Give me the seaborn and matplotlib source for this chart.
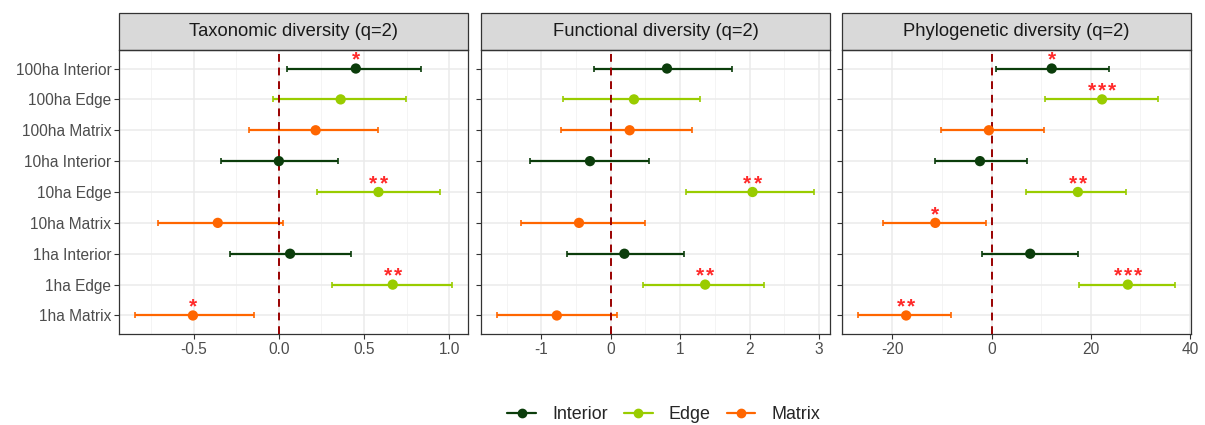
import numpy as np
import pandas as pd
import matplotlib
matplotlib.use("Agg")
import matplotlib.pyplot as plt
from matplotlib.lines import Line2D
from matplotlib.patches import Rectangle
from matplotlib.ticker import MultipleLocator, FormatStrFormatter
import seaborn as sns

# rows, top to bottom
labels = ["100ha Interior", "100ha Edge", "100ha Matrix",
          "10ha Interior", "10ha Edge", "10ha Matrix",
          "1ha Interior", "1ha Edge", "1ha Matrix"]
habitat = ["Interior", "Edge", "Matrix"] * 3

panels = ["Taxonomic diversity (q=2)", "Functional diversity (q=2)", "Phylogenetic diversity (q=2)"]

tax_est = [0.452, 0.363, 0.216, 0.0, 0.585, -0.359, 0.066, 0.669, -0.505]
tax_lo = [0.05, -0.037, -0.177, -0.341, 0.224, -0.71, -0.29, 0.31, -0.846]
tax_hi = [0.838, 0.747, 0.585, 0.347, 0.945, 0.025, 0.425, 1.018, -0.148]
tax_sig = ["*", "", "", "", "**", "", "", "**", "*"]

fun_est = [0.81, 0.334, 0.272, -0.30, 2.043, -0.458, 0.196, 1.36, -0.778]
fun_lo = [-0.243, -0.687, -0.711, -1.165, 1.079, -1.294, -0.63, 0.468, -1.642]
fun_hi = [1.747, 1.289, 1.165, 0.544, 2.931, 0.496, 1.06, 2.205, 0.095]
fun_sig = ["", "", "", "", "**", "", "", "**", ""]

phy_est = [12.13, 22.27, -0.53, -2.33, 17.4, -11.33, 7.8, 27.47, -17.2]
phy_lo = [0.87, 10.87, -10.27, -11.33, 6.87, -21.8, -1.93, 17.67, -26.93]
phy_hi = [23.7, 33.53, 10.6, 7.07, 27.13, -1.13, 17.4, 37.0, -8.2]
phy_sig = ["*", "***", "", "", "**", "*", "", "***", "**"]

colors = {"Interior": "#0B3D0B", "Edge": "#99CC00", "Matrix": "#FF6600"}

rows = []
for p, est, lo, hi, sig in zip(panels,
                               [tax_est, fun_est, phy_est],
                               [tax_lo, fun_lo, phy_lo],
                               [tax_hi, fun_hi, phy_hi],
                               [tax_sig, fun_sig, phy_sig]):
    for i in range(len(labels)):
        rows.append({"panel": p, "label": labels[i], "habitat": habitat[i],
                     "pos": len(labels) - 1 - i, "est": est[i], "lo": lo[i],
                     "hi": hi[i], "sig": sig[i]})
df = pd.DataFrame(rows)

sns.set_theme(style="whitegrid")
plt.rcParams["font.family"] = ["Liberation Sans", "DejaVu Sans"]
plt.rcParams["axes.unicode_minus"] = False

fig = plt.figure(figsize=(12.05, 4.25), dpi=100)
W, H = 1205, 425
lefts = [119, 481, 842]
pw = 349
top, bottom = 50, 334
strip_h = 37
major = [0.5, 1, 20]

for k, p in enumerate(panels):
    ax = fig.add_axes([lefts[k] / W, 1 - bottom / H, pw / W, (bottom - top) / H])
    d = df[df.panel == p]
    ax.set_facecolor("white")
    for _, r in d.iterrows():
        ax.errorbar([r.est], [r.pos], xerr=[[r.est - r.lo], [r.hi - r.est]],
                    fmt="none", ecolor=colors[r.habitat], elinewidth=1.6,
                    capsize=2, capthick=1.2, zorder=3)
    ax.axvline(0, color="#990000", ls=(0, (4, 3)), lw=1.4, zorder=4)
    sns.scatterplot(data=d, x="est", y="pos", hue="habitat", palette=colors,
                    s=55, edgecolor="none", legend=False, ax=ax, zorder=5)
    # significance stars, one glyph at a time so they are spread like the original
    for _, r in d.iterrows():
        n = len(r.sig)
        for j in range(n):
            ax.annotate("*", (r.est, r.pos), xytext=((j - (n - 1) / 2) * 7.3, 2),
                        textcoords="offset points", ha="center", va="baseline",
                        color="#FF2a2a", fontsize=15, fontweight="bold", zorder=6,
                        annotation_clip=False)
    lo_all = d.lo.min()
    hi_all = d.hi.max()
    span = hi_all - lo_all
    ax.set_xlim(lo_all - 0.05 * span, hi_all + 0.05 * span)
    ax.set_ylim(-0.6, len(labels) - 0.4)
    ax.xaxis.set_major_locator(MultipleLocator(major[k]))
    ax.xaxis.set_minor_locator(MultipleLocator(major[k] / 2))
    ax.set_yticks(range(len(labels)))
    if k == 0:
        ax.set_yticklabels(labels[::-1])
        ax.xaxis.set_major_formatter(FormatStrFormatter("%.1f"))
    else:
        ax.set_yticklabels([])
    ax.grid(True, which="major", color="#EBEBEB", lw=1.1)
    ax.grid(True, which="minor", color="#F2F2F2", lw=0.6)
    ax.tick_params(axis="both", which="major", length=3.5, width=0.8, color="#333333",
                   labelsize=11.2, labelcolor="#4D4D4D", pad=2, left=True, bottom=True)
    ax.tick_params(axis="both", which="minor", length=0)
    for s in ax.spines.values():
        s.set_color("#333333")
        s.set_linewidth(0.9)
    ax.set_xlabel("")
    ax.set_ylabel("")
    ax.add_patch(Rectangle((0, 1), 1, strip_h / (bottom - top), transform=ax.transAxes,
                           facecolor="#D9D9D9", edgecolor="#333333", lw=0.9, clip_on=False))
    ax.text(0.5, 1 + strip_h / (bottom - top) / 2, p, transform=ax.transAxes,
            ha="center", va="center", fontsize=13.2, color="#1A1A1A")

handles = [Line2D([0], [0], color=colors[h], marker="o", markersize=6, lw=1.6, label=h)
           for h in ["Interior", "Edge", "Matrix"]]
fig.legend(handles=handles, loc="center", bbox_to_anchor=(0.551, 0.024), ncol=3,
           frameon=False, fontsize=12.9, handlelength=1.6, columnspacing=0.9,
           handletextpad=0.9)

fig.savefig("out.png", dpi=100)
